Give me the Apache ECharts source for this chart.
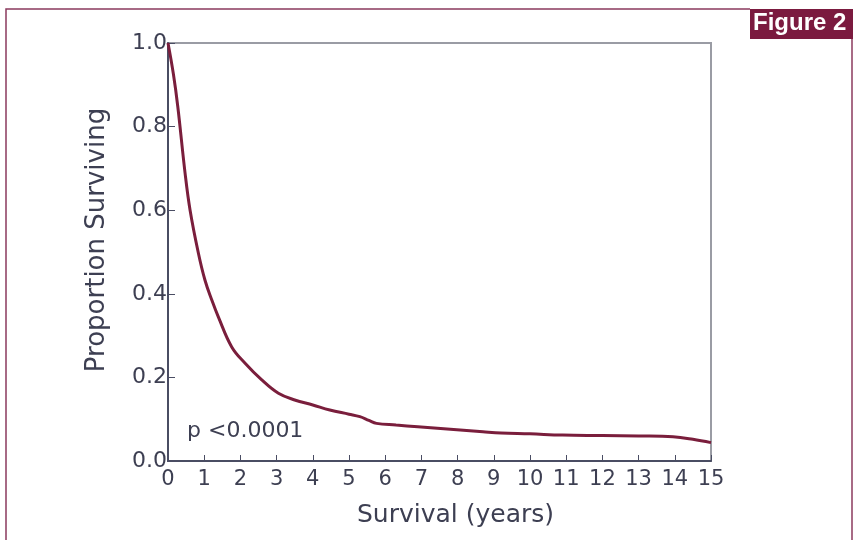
<!DOCTYPE html>
<html>
<head>
<meta charset="utf-8">
<script src="https://cdn.jsdelivr.net/npm/echarts@6/dist/echarts.min.js"></script>
<style>html,body{margin:0;padding:0;background:#fff}#c{width:856px;height:540px}</style>
</head>
<body>
<div id="c"></div>
<script>
const years = [0, 0.15, 0.27, 0.47, 0.61, 0.84, 1.02, 1.21, 1.39, 1.76, 2.13, 2.59, 3.05, 3.5, 4.0, 4.47, 5.0, 5.3, 5.55, 5.76, 6.3, 6.9, 7.8, 8.7, 9.2, 10, 10.9, 12, 13, 13.95, 14.5, 15];
const surviving = [1.0, 0.925, 0.848, 0.69, 0.6, 0.497, 0.433, 0.385, 0.345, 0.273, 0.234, 0.194, 0.162, 0.146, 0.134, 0.122, 0.112, 0.106, 0.097, 0.090, 0.086, 0.082, 0.076, 0.070, 0.067, 0.065, 0.062, 0.061, 0.060, 0.058, 0.052, 0.044];
const xTicks = [0,1,2,3,4,5,6,7,8,9,10,11,12,13,14,15];
const yTicks = [0.0, 0.2, 0.4, 0.6, 0.8, 1.0];
const pText = 'p <0.0001';
const figLabel = 'Figure 2';

const chart = echarts.init(document.getElementById('c'), null, {renderer: 'canvas'});
const axisColor = '#4a4d63';
const textColor = '#3d3f52';
const font = 'DejaVu Sans';
chart.setOption({
  animation: false,
  grid: {left: 168, top: 43, right: 145, bottom: 79, show: true, borderColor: '#9a9ca4', borderWidth: 2, backgroundColor: 'transparent'},
  xAxis: {
    type: 'value', min: 0, max: 15, interval: 1,
    name: 'Survival (years)', nameLocation: 'middle', nameGap: 42,
    nameTextStyle: {fontFamily: font, fontSize: 25, color: textColor, padding: [0, 0, 0, 32]},
    axisLine: {show: true, lineStyle: {color: axisColor, width: 2}},
    axisTick: {show: true, inside: true, length: 6, lineStyle: {color: axisColor, width: 1}},
    axisLabel: {fontFamily: font, fontSize: 21, color: textColor, margin: 8, formatter: v => xTicks.includes(v) ? String(v) : ''},
    splitLine: {show: false}
  },
  yAxis: {
    type: 'value', min: 0, max: 1, interval: 0.2,
    name: 'Proportion Surviving', nameLocation: 'middle', nameGap: 58,
    nameTextStyle: {fontFamily: font, fontSize: 26, color: textColor, padding: [0, 0, 0, 24]},
    axisLine: {show: true, lineStyle: {color: axisColor, width: 2}},
    axisTick: {show: true, inside: true, length: 7, lineStyle: {color: axisColor, width: 1}},
    axisLabel: {fontFamily: font, fontSize: 22, color: textColor, margin: 1, formatter: v => v.toFixed(1)},
    splitLine: {show: false}
  },
  series: [{
    type: 'line', data: years.map((t, i) => [t, surviving[i]]),
    smooth: 0.4, symbol: 'none',
    lineStyle: {color: '#7a1e3c', width: 3}
  }],
  graphic: [
    {type: 'polyline', shape: {points: [[6, 540], [6, 9], [750, 9]]}, style: {stroke: '#8b3a5e', lineWidth: 1.5, fill: null}},
    {type: 'line', shape: {x1: 852, y1: 39, x2: 852, y2: 540}, style: {stroke: '#8b3a5e', lineWidth: 1.5}},
    {type: 'rect', shape: {x: 750, y: 9, width: 103, height: 30}, style: {fill: '#7b1a3f'}},
    {type: 'text', left: 753, top: 11, style: {text: figLabel, fill: '#ffffff', font: 'bold 24px "Liberation Sans", Arial, sans-serif'}},
    {type: 'text', left: 187, top: 420, style: {text: pText, fill: textColor, font: '22px "DejaVu Sans", sans-serif'}}
  ]
});
</script>
</body>
</html>
